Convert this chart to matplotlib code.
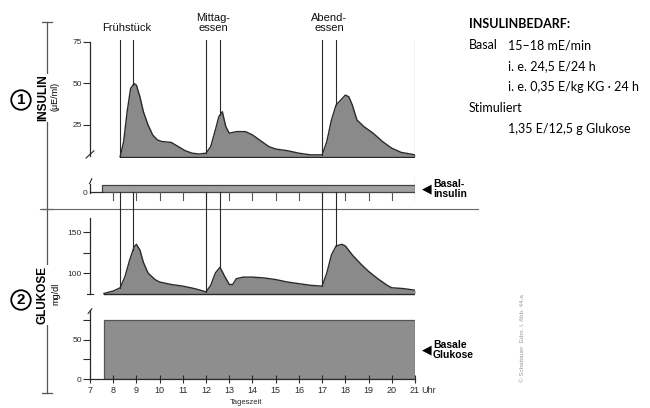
import numpy as np
import matplotlib
matplotlib.use("Agg")
import matplotlib.pyplot as plt

# ---- data ----
hours_ins = [8.3, 8.45, 8.6, 8.75, 8.9, 9.0, 9.15, 9.3, 9.5, 9.7, 9.9, 10.1, 10.5, 10.8,
             11.1, 11.4, 11.7, 12.0, 12.2, 12.4, 12.55, 12.7, 12.85, 13.0, 13.3, 13.7,
             14.0, 14.3, 14.7, 15.0, 15.5, 16.0, 16.5, 17.0, 17.2, 17.4, 17.6, 17.8,
             18.0, 18.15, 18.3, 18.5, 18.8, 19.2, 19.6, 20.0, 20.4, 21.0]
insulin = [6, 15, 33, 47, 50, 49, 42, 33, 25, 19, 16, 15, 14.5, 12,
           9.5, 8, 7.5, 8, 12, 22, 30, 33, 24, 20, 21, 21,
           19, 16, 12, 10.5, 9.5, 8, 7, 7, 15, 28, 37, 40,
           43, 42, 37, 28, 24, 20, 15, 11, 8.5, 7]
insulin_base = 6

hours_glu = [7.6, 8.0, 8.3, 8.5, 8.7, 8.9, 9.0, 9.15, 9.3, 9.5, 9.8, 10.0, 10.5, 11.0,
             11.5, 12.0, 12.2, 12.4, 12.6, 12.8, 13.0, 13.15, 13.3, 13.6, 14.0, 14.5,
             15.0, 15.5, 16.0, 16.5, 17.0, 17.2, 17.4, 17.6, 17.85, 18.0, 18.3, 18.7,
             19.0, 19.4, 19.8, 20.0, 20.5, 21.0]
glukose = [75, 78, 82, 95, 115, 132, 135, 128, 113, 100, 92, 89, 86, 84,
           81, 77, 85, 100, 107, 96, 86, 86, 93, 95, 95, 94,
           92, 89, 87, 85, 84, 100, 122, 133, 135, 133, 122, 110,
           102, 93, 85, 82, 81, 79]
glukose_base = 75

meal_start = [8.3, 12.0, 17.0]
meal_peak = [8.85, 12.6, 17.6]
meal_names = ["Frühstück", "Mittag-\nessen", "Abend-\nessen"]

basal_start, basal_end = 7.5, 21
basal_glukose = 75
glukose_start = 7.6

hour_ticks = list(range(7, 22))

W, H = 650, 408
fig = plt.figure(figsize=(W / 100, H / 100), dpi=100)
fig.patch.set_facecolor("white")

def box(x0, y0, x1, y1):
    return [x0 / W, 1 - y1 / H, (x1 - x0) / W, (y1 - y0) / H]

LAB = ["Liberation Sans", "DejaVu Sans"]
INK = "#2a2a2a"
FILL = "#8a8a8a"

# frame / decoration layer in pixel coords
fr = fig.add_axes(box(0, 0, W, H))
fr.set_xlim(0, W)
fr.set_ylim(H, 0)
fr.axis("off")
fr.plot([47, 47], [22, 393], color="#555", lw=0.9)
for yy in (22, 209, 393):
    fr.plot([42, 52], [yy, yy], color="#555", lw=0.9)
fr.plot([40, 478], [209, 209], color="#666", lw=0.8)

def circ(x, y, s):
    fr.text(x, y, s, ha="center", va="center", fontsize=11, fontweight="bold",
            family=LAB, bbox=dict(boxstyle="circle,pad=0.18", fc="white", ec="black", lw=1.3))

circ(21, 100, "1")
circ(21, 300, "2")
fr.text(43, 98, "INSULIN", rotation=90, ha="center", va="center", fontsize=8.5,
        fontweight="bold", family=LAB, bbox=dict(fc="white", ec="none", pad=0.5))
fr.text(55, 96, "(μE/ml)", rotation=90, ha="center", va="center", fontsize=6.5, family=LAB)
fr.text(43, 295, "GLUKOSE", rotation=90, ha="center", va="center", fontsize=8.5,
        fontweight="bold", family=LAB, bbox=dict(fc="white", ec="none", pad=0.5))
fr.text(56, 294, "mg/dl", rotation=90, ha="center", va="center", fontsize=6.5, family=LAB)

# right text block
TB = ["Lato", "DejaVu Sans"]
fr.text(469, 24, "INSULINBEDARF:", fontsize=9, fontweight="bold", family=TB, va="center")
fr.text(469, 45, "Basal", fontsize=9, family=TB, va="center")
rows = [(45, "15–18 mE/min"), (66, "i. e. 24,5 E/24 h"), (87, "i. e. 0,35 E/kg KG · 24 h")]
for yy, s in rows:
    fr.text(508, yy, s, fontsize=9, family=TB, va="center")
fr.text(469, 108, "Stimuliert", fontsize=9, family=TB, va="center")
fr.text(508, 129, "1,35 E/12,5 g Glukose", fontsize=9, family=TB, va="center")

# arrows + labels
fr.text(427, 189, "◀", fontsize=9, ha="center", va="center", family=["DejaVu Sans"])
fr.text(433, 189, "Basal-\ninsulin", fontsize=7.5, fontweight="bold", family=LAB,
        va="center", linespacing=1.1)
fr.text(427, 350, "◀", fontsize=9, ha="center", va="center", family=["DejaVu Sans"])
fr.text(433, 350, "Basale\nGlukose", fontsize=7.5, fontweight="bold", family=LAB,
        va="center", linespacing=1.1)
fr.text(523, 338, "© Schattauer  Edm. I. Abb. 44.a", rotation=90, fontsize=4.5,
        color="#9a9a9a", ha="center", va="center", family=LAB)
fr.text(246, 402, "Tageszeit", fontsize=5.5, ha="center", va="center", family=LAB, color=INK)

def style(ax):
    ax.set_facecolor("none")
    for s in ("top", "right", "bottom"):
        ax.spines[s].set_visible(False)
    ax.spines["left"].set_color(INK)
    ax.spines["left"].set_linewidth(0.9)
    ax.tick_params(axis="y", direction="out", length=5, width=0.8, color=INK,
                   labelsize=6, labelcolor=INK, pad=1)
    ax.set_xlim(7, 21)
    for lab in ax.get_yticklabels():
        lab.set_family(LAB)

def brk(ax, yfrac):
    ax.plot([-0.012, 0.012], [yfrac - 0.03, yfrac + 0.03], transform=ax.transAxes,
            color=INK, lw=0.8, clip_on=False)

# ---- insulin panel ----
ax1 = fig.add_axes(box(90, 38, 415, 158))
style(ax1)
ax1.set_ylim(5.1, 77.4)
ax1.spines["left"].set_bounds(6.5, 75)
ax1.set_yticks([25, 50, 75])
ax1.set_xticks([])
brk(ax1, 0.03)
ax1.fill_between(hours_ins, insulin_base, insulin, color=FILL, lw=0)
ax1.plot(hours_ins, insulin, color=INK, lw=1.0)
ax1.plot([hours_ins[0], hours_ins[-1]], [insulin_base, insulin_base], color=INK, lw=1.0)
for t in meal_start + meal_peak:
    ax1.plot([t, t], [76.2, np.interp(t, hours_ins, insulin)], color=INK, lw=0.8)
ax1.plot([21, 21], [76.2, insulin_base], color=INK, lw=0.8)
for name, a, b in zip(meal_names, meal_start, meal_peak):
    ax1.text((a + b) / 2, 80.5, name, ha="center", va="bottom",
             fontsize=8, family=LAB, color="#111", linespacing=1.0)

# ---- basal insulin bar ----
axb = fig.add_axes(box(90, 176, 415, 202))
style(axb)
axb.set_ylim(-1.43, 2.29)
axb.spines["left"].set_bounds(-0.1, 1.2)
axb.set_yticks([0])
axb.tick_params(axis="y", length=0, pad=2)
axb.set_xticks([])
axb.plot([7, basal_start], [0, 0], color=INK, lw=0.9)
axb.add_patch(plt.Rectangle((basal_start, 0), basal_end - basal_start, 1,
                            fc="#a0a0a0", ec="#444", lw=0.9))
for h in hour_ticks[1:-1]:
    axb.plot([h, h], [-1.1, 0], color="#555", lw=0.8)
axb.plot([21, 21], [-1.4, 2.2], color=INK, lw=0.8)
axb.plot([6.98, 7.08], [1.2, 1.9], color=INK, lw=0.8, clip_on=False)

# ---- glucose panel ----
ax2 = fig.add_axes(box(90, 214, 415, 296))
style(ax2)
ax2.set_ylim(71.95, 172)
ax2.spines["left"].set_bounds(74, 167)
ax2.set_yticks([100, 150])
ax2.set_yticks([125], minor=True)
ax2.tick_params(axis="y", which="minor", length=5, width=0.8, color=INK)
ax2.set_xticks([])
ax2.plot([6.85, 7.15], [74, 74], color=INK, lw=0.8, clip_on=False)
ax2.fill_between(hours_glu, glukose_base, glukose, color=FILL, lw=0)
ax2.plot(hours_glu, glukose, color=INK, lw=1.0)
ax2.plot([hours_glu[0], hours_glu[-1]], [glukose_base, glukose_base], color=INK, lw=1.0)
for t in meal_start + meal_peak:
    ax2.plot([t, t], [199, np.interp(t, hours_glu, glukose)], color=INK, lw=0.8,
             clip_on=False)

# ---- basal glucose panel ----
ax3 = fig.add_axes(box(90, 308, 415, 379))
style(ax3)
ax3.set_ylim(0, 91)
ax3.spines["left"].set_bounds(0, 88)
ax3.spines["bottom"].set_visible(True)
ax3.spines["bottom"].set_color(INK)
ax3.spines["bottom"].set_linewidth(0.9)
ax3.set_yticks([0, 50])
ax3.set_yticks([25, 75], minor=True)
ax3.tick_params(axis="y", which="minor", length=5, width=0.8, color=INK)
ax3.set_xticks(hour_ticks)
ax3.set_xticklabels([str(h) for h in hour_ticks])
ax3.tick_params(axis="x", direction="inout", length=6, width=0.8, color=INK,
                labelsize=6.5, labelcolor=INK, pad=2)
for lab in ax3.get_xticklabels():
    lab.set_family(LAB)
ax3.plot([6.92, 7.08], [84, 90], color=INK, lw=0.8, clip_on=False)
ax3.add_patch(plt.Rectangle((glukose_start, 0), 21 - glukose_start, basal_glukose,
                            fc="#8e8e8e", ec="#555", lw=0.9))
ax3.text(21.25, -0.16, "Uhr", transform=ax3.get_xaxis_transform(), fontsize=6.5,
         family=LAB, color=INK, va="center")

fig.savefig("out.png", dpi=100, facecolor="white")
